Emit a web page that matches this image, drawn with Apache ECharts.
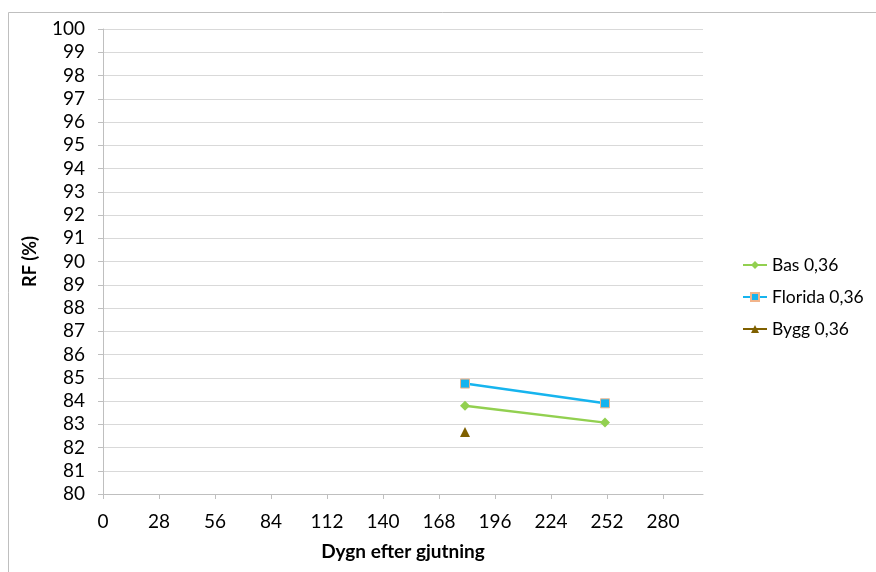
<!DOCTYPE html>
<html><head><meta charset="utf-8">
<script src="https://cdn.jsdelivr.net/npm/echarts@6/dist/echarts.min.js"></script>
<style>html,body{margin:0;padding:0;background:#fff}#c{width:876px;height:572px}</style>
</head><body><div id="c"></div>
<script>
const seriesNames = ["Bas 0,36", "Florida 0,36", "Bygg 0,36"];
const basDays = [181, 251];
const basValues = [83.8, 83.07];
const floridaDays = [181, 251];
const floridaValues = [84.75, 83.9];
const byggDays = [181];
const byggValues = [82.67];
const xRange = [0, 300];
const xStep = 28;
const yRange = [80, 100];

const zip = (a, b) => a.map((v, i) => [v, b[i]]);
const font = "Lato, 'Open Sans', sans-serif";
const chart = echarts.init(document.getElementById('c'), null, {renderer: 'canvas'});
chart.setOption({
  animation: false,
  backgroundColor: '#fff',
  graphic: [
    {type: 'polyline', shape: {points: [[8.5, 572], [8.5, 12.5], [876, 12.5]]}, style: {stroke: '#bfbfbf', lineWidth: 1, fill: null}}
  ],
  grid: {left: 103, top: 29, right: 173, bottom: 78, containLabel: false},
  legend: {
    orient: 'vertical', left: 737, top: 251, itemGap: 14, itemWidth: 24, itemHeight: 10,
    textStyle: {fontFamily: font, fontSize: 17.5, color: '#000'},
    data: seriesNames
  },
  xAxis: {
    type: 'value', min: xRange[0], max: xRange[1], interval: xStep,
    name: 'Dygn efter gjutning', nameLocation: 'middle', nameGap: 48,
    nameTextStyle: {fontFamily: font, fontSize: 19, fontWeight: 'bold', color: '#000'},
    axisLine: {show: true, lineStyle: {color: '#bfbfbf', width: 1}},
    axisTick: {show: true, length: 5, lineStyle: {color: '#bfbfbf'}},
    axisLabel: {fontFamily: font, fontSize: 19, color: '#000', margin: 18, showMaxLabel: false},
    splitLine: {show: false}
  },
  yAxis: {
    type: 'value', min: yRange[0], max: yRange[1], interval: 1,
    name: 'RF (%)', nameLocation: 'middle', nameGap: 64, nameRotate: 90,
    nameTextStyle: {fontFamily: font, fontSize: 18, fontWeight: 'bold', color: '#000'},
    axisLine: {show: true, lineStyle: {color: '#bfbfbf', width: 1}},
    axisTick: {show: true, length: 5, lineStyle: {color: '#bfbfbf'}},
    axisLabel: {fontFamily: font, fontSize: 19, color: '#000', margin: 18},
    splitLine: {show: true, lineStyle: {color: '#d9d9d9', width: 1}}
  },
  series: [
    {name: seriesNames[0], type: 'line', data: zip(basDays, basValues), symbol: 'diamond', symbolSize: 10,
      lineStyle: {color: '#92D050', width: 2.5}, itemStyle: {color: '#92D050'}, color: '#92D050'},
    {name: seriesNames[1], type: 'line', data: zip(floridaDays, floridaValues), symbol: 'rect', symbolSize: 9,
      lineStyle: {color: '#16B4EE', width: 2.5}, itemStyle: {color: '#16B4EE', borderColor: '#F2B48A', borderWidth: 1}, color: '#16B4EE'},
    {name: seriesNames[2], type: 'line', data: zip(byggDays, byggValues), symbol: 'triangle', symbolSize: 10,
      lineStyle: {color: '#7F6000', width: 2.5}, itemStyle: {color: '#7F6000'}, color: '#7F6000'}
  ]
});
</script></body></html>
